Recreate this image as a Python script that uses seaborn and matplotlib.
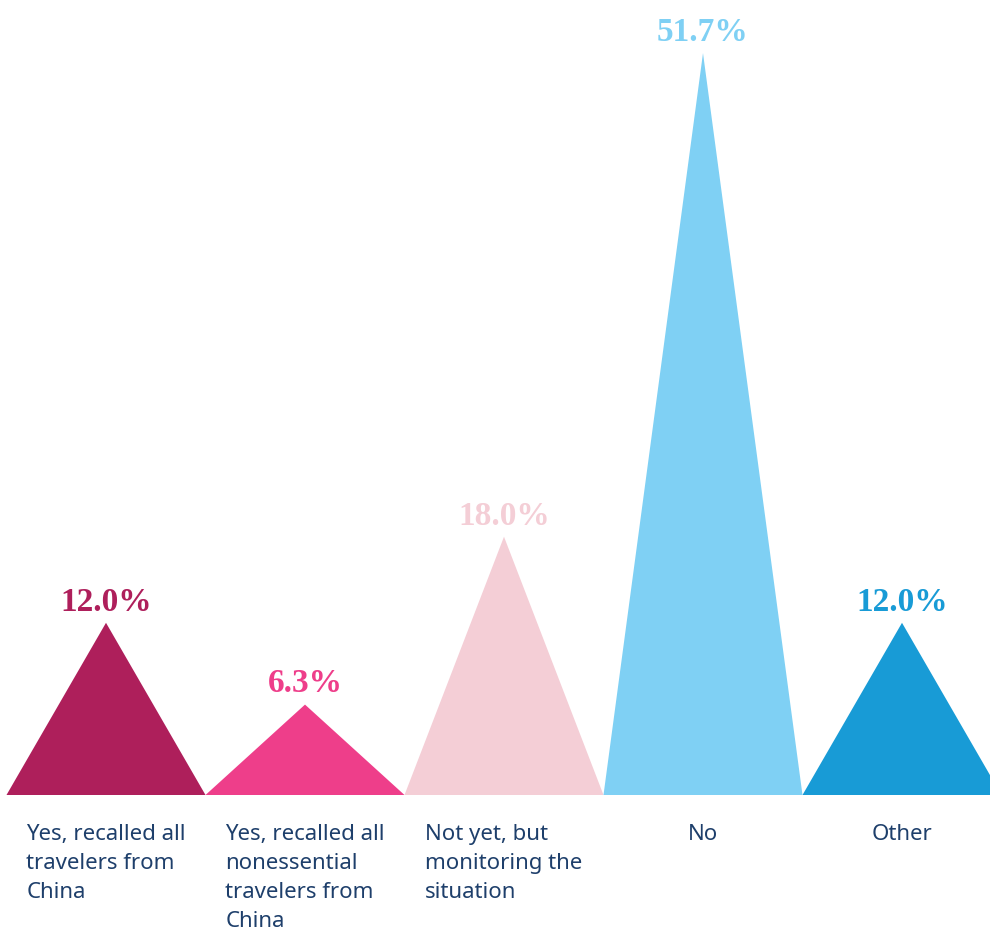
import matplotlib
matplotlib.use('Agg')
import matplotlib.pyplot as plt
import seaborn as sns

categories = ['Yes, recalled all\ntravelers from\nChina',
              'Yes, recalled all\nnonessential\ntravelers from\nChina',
              'Not yet, but\nmonitoring the\nsituation',
              'No',
              'Other']
values = [12.0, 6.3, 18.0, 51.7, 12.0]
value_labels = ['12.0%', '6.3%', '18.0%', '51.7%', '12.0%']
colors = ['#AE1F5B', '#EE3E8A', '#F4CED6', '#7FD0F4', '#189BD6']

sns.set_style('white')
plt.rcParams['font.family'] = ['Noto Sans', 'DejaVu Sans']

fig = plt.figure(figsize=(9.9, 9.29), dpi=100)
ax = fig.add_axes([0, 0, 1, 1])

# invisible bars give the positions, triangles are drawn on top of them
sns.barplot(x=list(range(len(values))), y=values, ax=ax, width=1.0,
            fill=False, linewidth=0)

for i, p in enumerate(ax.patches):
    x0 = p.get_x()
    w = p.get_width()
    h = p.get_height()
    ax.fill([x0, x0 + w / 2, x0 + w], [0, h, 0], color=colors[i], linewidth=0)
    ax.annotate(value_labels[i], (x0 + w / 2, h), xytext=(0, 9.5),
                textcoords='offset points', ha='center', va='baseline',
                fontsize=24, fontweight='bold', family='Liberation Serif',
                color=colors[i])
    ax.text(x0 + w / 2, -1.95, categories[i], ha='center', va='top',
            multialignment='left', fontsize=16, color='#1E3F6B',
            linespacing=1.5)

ax.set_xlim(-106 / 199, (990 - 106) / 199)
ax.set_ylim(-133 / 14.35, 796 / 14.35)
ax.axis('off')

fig.savefig('out.png', dpi=100)
